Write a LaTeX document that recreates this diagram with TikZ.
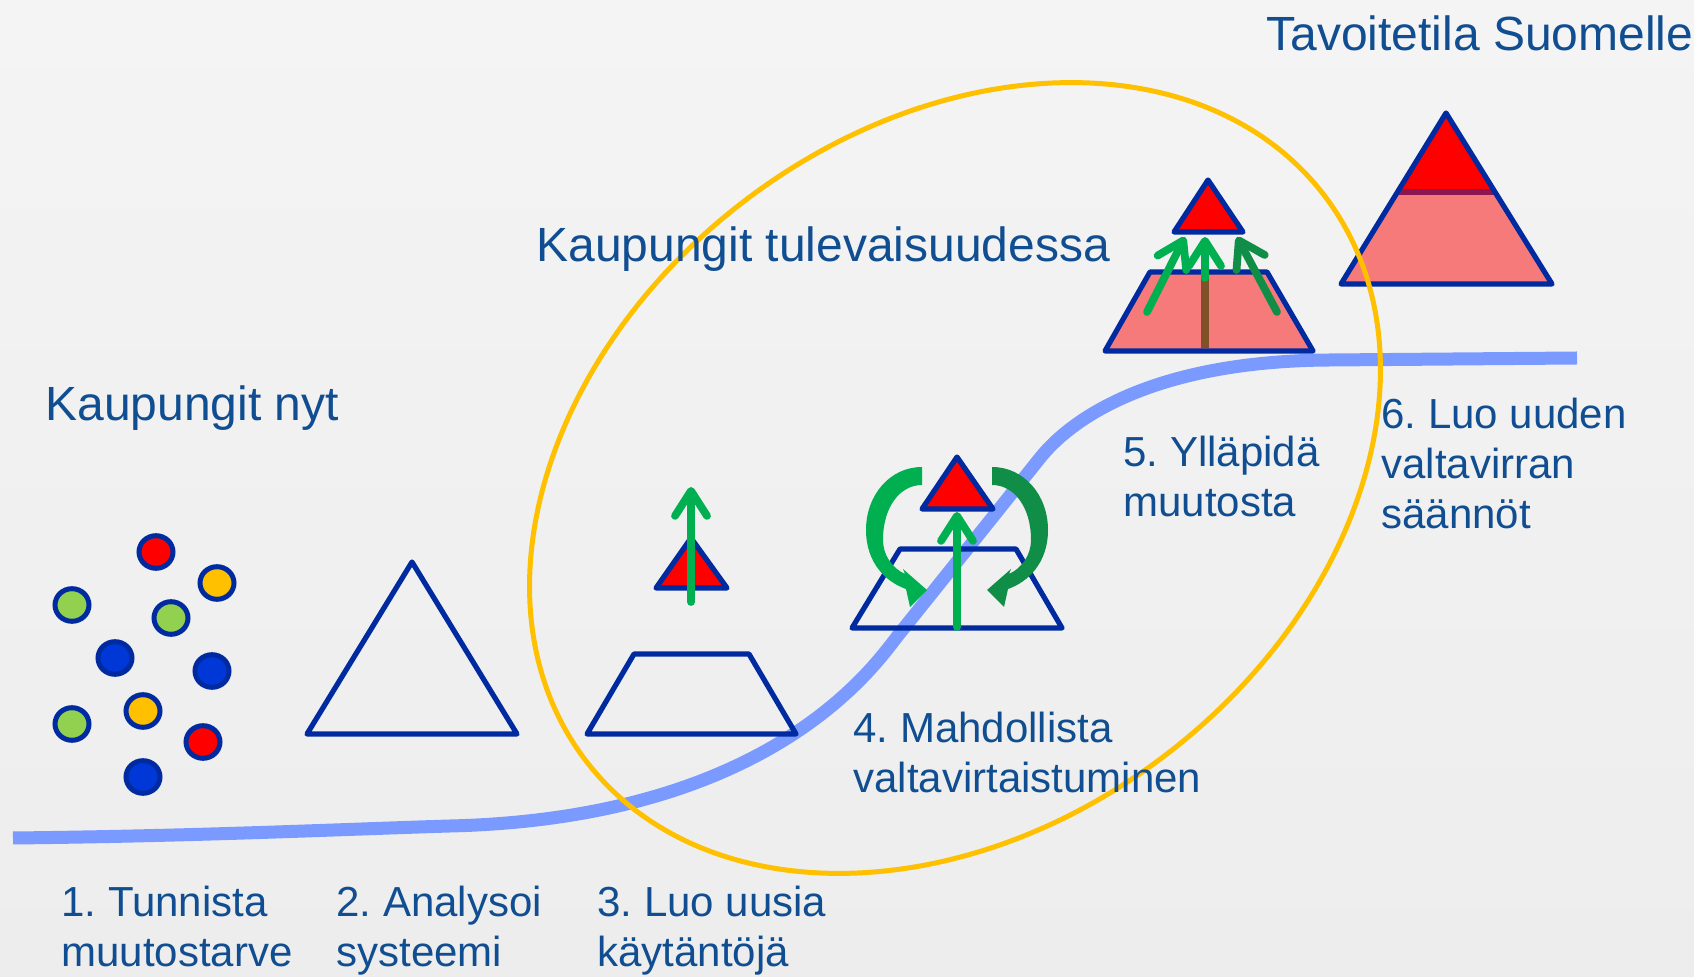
\documentclass[tikz,border=0pt]{standalone}
\usepackage{fontspec}
\setmainfont{Liberation Sans}
\frenchspacing
\usetikzlibrary{arrows.meta}
\definecolor{bgtop}{RGB}{244,244,244}
\definecolor{bgbot}{RGB}{237,237,237}
\definecolor{navy}{RGB}{0,42,160}
\definecolor{txtblue}{RGB}{16,78,145}
\definecolor{curveblue}{RGB}{122,154,255}
\definecolor{gold}{RGB}{255,192,0}
\definecolor{brightred}{RGB}{255,0,0}
\definecolor{salmon}{RGB}{246,122,122}
\definecolor{divider}{RGB}{140,22,80}
\definecolor{grn}{RGB}{0,176,80}
\definecolor{dkgrn}{RGB}{16,142,72}
\definecolor{brownline}{RGB}{128,80,40}
\definecolor{dotgreen}{RGB}{146,208,80}
\definecolor{dotyellow}{RGB}{255,192,0}
\definecolor{dotblue}{RGB}{0,56,216}
\begin{document}
\begin{tikzpicture}[x={(0.5pt,0)}, y={(0,-0.5pt)},
  shapeline/.style={draw=navy, line width=2.6pt, line join=round},
  grarrow/.style={draw=grn, line width=3.9pt, line cap=round, -{Straight Barb[length=12.5pt, width=16pt, round]}},
  dkarrow/.style={grarrow, draw=dkgrn},
  dotshape/.style={draw=navy, line width=2.5pt},
  lbl/.style={text=txtblue, font=\fontsize{21pt}{25pt}\selectfont, align=left, anchor=north west, inner sep=0pt},
  headtxt/.style={text=txtblue, font=\fontsize{24pt}{29pt}\selectfont, anchor=base west, inner sep=0pt}]
\useasboundingbox (0,0) rectangle (1694,977);
\shade[top color=bgtop, bottom color=bgbot] (0,0) rectangle (1694,977);

% S-curve
\draw[curveblue, line width=6.5pt] (13,838) .. controls (200,836) and (350,829) .. (450,826) .. controls (780,818) and (880,657) .. (900,633) -- (1040,458) .. controls (1070,420.5) and (1150,361) .. (1330,360) -- (1577,358);

% dots
\foreach \px/\py/\c in {156/552/brightred, 217/583/dotyellow, 72/605/dotgreen, 171/618/dotgreen, 115/658/dotblue, 212/671/dotblue, 143/711/dotyellow, 72/724/dotgreen, 203/742/brightred, 143/777/dotblue}
  \draw[dotshape, fill=\c] (\px,\py) ellipse [x radius=17, y radius=16.3];

% step 2
\draw[shapeline] (412,562) -- (517,734) -- (307,734) -- cycle;

% step 3
\draw[shapeline] (634,654) -- (749,654) -- (796,734) -- (587,734) -- cycle;
\draw[shapeline, fill=brightred] (691,538) -- (727,588) -- (656,588) -- cycle;
\draw[grarrow] (691,602) -- (691,487);

% step 4
\draw[shapeline] (900,549) -- (1016,549) -- (1062,628) -- (852,628) -- cycle;
\draw[shapeline, fill=brightred] (957,457) -- (993,509) -- (922,509) -- cycle;
\draw[grarrow] (957,627) -- (957,512);
\fill[grn] (922,467) .. controls (890,467) and (866,495) .. (866,530) .. controls (866,563) and (886,582) .. (906,589) -- (910,607) -- (927,590) -- (903,569) -- (905,574) .. controls (892,568) and (883,555) .. (883,540) .. controls (883,507) and (900,485) .. (922,485) -- cycle;
\fill[dkgrn] (992,467) .. controls (1024,467) and (1048,495) .. (1048,530) .. controls (1048,563) and (1028,582) .. (1008,589) -- (1004,607) -- (987,590) -- (1011,569) -- (1009,574) .. controls (1022,568) and (1031,555) .. (1031,540) .. controls (1031,507) and (1014,485) .. (992,485) -- cycle;

% step 5
\draw[shapeline, fill=salmon] (1150,272) -- (1267,272) -- (1313,351) -- (1105,351) -- cycle;
\draw[brownline, line width=3.6pt] (1205,273) -- (1205,348);
\draw[shapeline, fill=brightred] (1208,180) -- (1243,232) -- (1174,232) -- cycle;
\draw[grarrow] (1205,278) -- (1205,237);
\draw[grarrow] (1147,312) -- (1185,237);
\draw[dkarrow] (1277,312) -- (1237,237);

% step 6
\fill[salmon] (1446,113) -- (1552,284) -- (1341,284) -- cycle;
\fill[brightred] (1446,113) -- (1495,192) -- (1397.5,192) -- cycle;
\draw[divider, line width=2.6pt] (1398,192) -- (1494,192);
\draw[shapeline] (1446,113) -- (1552,284) -- (1341,284) -- cycle;

% ellipse
\draw[gold, line width=2.5pt, rotate around={37.5:(955,478)}] (955,478) ellipse [x radius=465, y radius=348];

% texts
\node[headtxt] (goal) at (1266,51) {Tavoitetila Suomelle};
\node[headtxt] (future) at (536,262) {Kaupungit tulevaisuudessa};
\node[headtxt] (now) at (45,421) {Kaupungit nyt};
\node[lbl] (s1) at (61,886) {1. Tunnista\\muutostarve};
\node[lbl] (s2) at (336,886) {2. Analysoi\\systeemi};
\node[lbl] (s3) at (597,886) {3. Luo uusia\\käytäntöjä};
\node[lbl] (s4) at (853,712) {4. Mahdollista\\valtavirtaistuminen};
\node[lbl] (s5) at (1123,436) {5. Ylläpidä\\muutosta};
\node[lbl] (s6) at (1381,398) {6. Luo uuden\\valtavirran\\säännöt};
\end{tikzpicture}
\end{document}
